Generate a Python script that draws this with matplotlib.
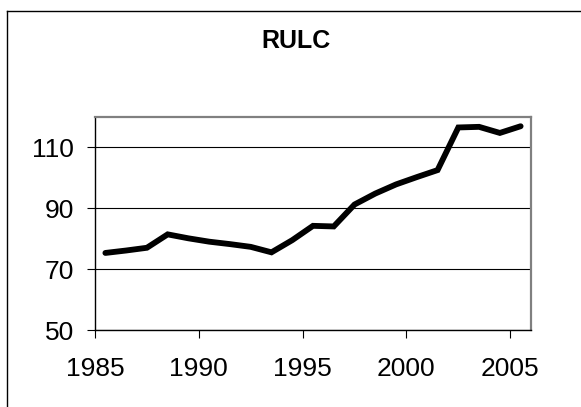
import matplotlib.pyplot as plt
import numpy as np
from matplotlib.lines import Line2D

plt.rcParams['font.family'] = ['Liberation Sans', 'DejaVu Sans']

years = np.arange(1985, 2006)
rulc = [75.3, 76.1, 77.0, 81.4, 80.1, 79.0, 78.2, 77.3, 75.5, 79.5, 84.2,
        84.0, 91.2, 94.8, 97.8, 100.2, 102.5, 116.5, 116.7, 114.7, 116.9]
yticks = [50, 70, 90, 110]
xlabels = [1985, 1990, 1995, 2000, 2005]

W, H = 581, 407
fig = plt.figure(figsize=(W / 100, H / 100), dpi=100)
ax = fig.add_axes([95 / W, 77 / H, 436 / W, 213.2 / H])

ax.plot(years, rulc, color='black', lw=4.2, solid_joinstyle='miter',
        solid_capstyle='round', zorder=3)

ax.set_xlim(years[0] - 0.5, years[-1] + 0.5)
ax.set_ylim(50, 120)
ax.set_yticks(yticks)
ax.set_xticks(np.array(xlabels) - 0.5)
ax.set_xticklabels([str(v) for v in xlabels])
ax.yaxis.grid(True, color='black', lw=0.8)
ax.set_axisbelow(True)

ax.tick_params(axis='y', length=5.8, width=0.8, pad=9.5, labelsize=19, direction='out')
ax.tick_params(axis='x', length=5.8, width=0.8, pad=14, labelsize=19, direction='out')

for s in ['left', 'bottom']:
    ax.spines[s].set_color('black')
    ax.spines[s].set_linewidth(1.0)
for s in ['top', 'right']:
    ax.spines[s].set_color('#808080')
    ax.spines[s].set_linewidth(1.6)

fig.text(296 / W, (H - 47.7) / H, 'RULC', ha='center', va='baseline',
         fontsize=18, fontweight='bold')

# chart border (only left and top visible in the crop)
fig.add_artist(Line2D([7 / W, 7 / W], [0, (H - 11) / H], color='black', lw=1.0))
fig.add_artist(Line2D([7 / W, 1], [(H - 11) / H, (H - 11) / H], color='black', lw=1.0))

plt.savefig('out.png', dpi=100)
